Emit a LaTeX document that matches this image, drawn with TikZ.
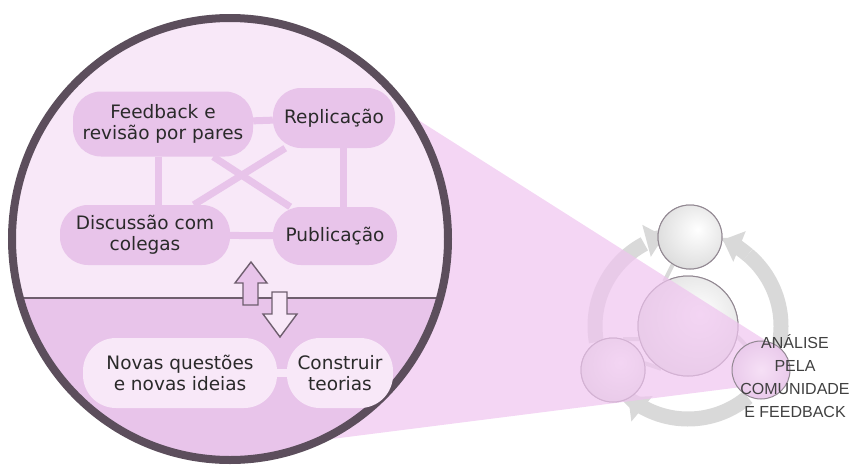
\documentclass[tikz,border=0pt]{standalone}
\usepackage{fontspec}
\setmainfont{DejaVu Sans}
\newfontfamily\libsans{Liberation Sans}
\usetikzlibrary{arrows.meta}
\definecolor{upperc}{HTML}{F8E8F8}
\definecolor{nodec}{HTML}{E8C4EA}
\definecolor{strokec}{HTML}{5C4E5C}
\definecolor{linec}{HTML}{6E5E6E}
\definecolor{txt}{HTML}{2A2A2A}
\definecolor{wedgec}{HTML}{EFC4EF}
\definecolor{ringc}{HTML}{D9D9D9}
\definecolor{ballgray}{HTML}{C8C8C8}
\definecolor{ballborder}{HTML}{928892}
\definecolor{pinkin}{HTML}{F6E0F6}
\definecolor{pinkout}{HTML}{DDB4E0}
\definecolor{sidetxt}{HTML}{404040}
\pgfdeclareradialshading{grayball}{\pgfpoint{6bp}{6bp}}{color(0bp)=(white); color(50bp)=(ballgray); color(100bp)=(ballgray)}
\pgfdeclareradialshading{pinkball}{\pgfpoint{0bp}{0bp}}{color(0bp)=(pinkin); color(50bp)=(pinkout); color(100bp)=(pinkout)}
\pgfdeclarelayer{bg}
\pgfdeclarelayer{mid}
\pgfsetlayers{bg,mid,main}
\newcommand\myNodeFont{\fontsize{18.5}{21}\selectfont}
\begin{document}
\begin{tikzpicture}[x=1pt,y=-1pt,
  ubox/.style={rectangle, rounded corners=28pt, fill=nodec, text=txt, align=center, font=\myNodeFont, inner sep=0pt},
  lbox/.style={rectangle, rounded corners=33pt, fill=upperc, text=txt, align=center, font=\myNodeFont, inner sep=0pt},
  conn/.style={draw=nodec, line width=7pt},
  lconn/.style={draw=upperc, line width=8pt},
  ring/.style={draw=ringc, line width=15pt},
  ringtip/.style={-{Triangle[width=32pt,length=18pt]}},
  stub/.style={draw=ringc, line width=4pt},
  gball/.style={circle, shade, shading=grayball, draw=ballborder, line width=1pt, inner sep=0pt},
  pball/.style={circle, shade, shading=pinkball, draw=ballborder, line width=1pt, inner sep=0pt},
  bigarrow/.style={draw=linec, line width=1.4pt, line join=miter}
]
\useasboundingbox (0,0) rectangle (854,469);

% ---------- right cluster, wedge, big circle (background layer) ----------
\begin{pgfonlayer}{bg}
  \coordinate (O) at (688,326);
  \draw[ring] (O) ++(-190:93) arc (-190:-118:93);
  \draw[ring,ringtip] (O) ++(-112:93) arc (-112:-105:93);
  \draw[ring] (O) ++(12:93) arc (12:-50:93);
  \draw[ring,ringtip] (O) ++(-50:93) arc (-50:-68:93);
  \draw[ring] (O) ++(50:93) arc (50:122:93);
  \draw[ring,ringtip] (O) ++(122:93) arc (122:130:93);

  \node[gball, minimum size=100pt] (cc) at (688,326) {};
  \node[gball, minimum size=64pt] (ctop) at (690,237) {};
  \node[gball, minimum size=64pt] (lc) at (613,370) {};
  \draw[stub] (cc.118) -- (ctop.238);
  \draw[stub] (cc.195) -- (lc.72);
  \draw[stub] (cc.238) -- (lc.12);
  \draw[stub] (cc.-12) -- (760,360);
  \node[gball, minimum size=100pt] at (cc) {};
  \node[gball, minimum size=64pt] at (ctop) {};
  \node[gball, minimum size=64pt] at (lc) {};

  % wedge of the magnifier
  \fill[wedgec, fill opacity=0.7] (300,45) -- (765,340) -- (765,384) -- (300,443) -- cycle;

  \node[pball, minimum size=58pt] (rc) at (761,370) {};

  % big circle
  \begin{scope}
    \clip (230,239) ellipse [x radius=218, y radius=221];
    \fill[upperc] (0,0) rectangle (460,298);
    \fill[nodec] (0,298) rectangle (460,470);
    \draw[linec, line width=1.8pt] (0,298) -- (460,298);
  \end{scope}
  \draw[strokec, line width=8pt] (230,239) ellipse [x radius=218, y radius=221];
\end{pgfonlayer}

% ---------- nodes ----------
\node[ubox, minimum width=180pt, minimum height=65pt] (fb) at (163,124) {Feedback e\\revisão por pares};
\node[ubox, minimum width=122pt, minimum height=60pt] (rep) at (334,118) {Replicação};
\node[ubox, minimum width=170pt, minimum height=60pt] (disc) at (145,235) {Discussão com\\colegas};
\node[ubox, minimum width=124pt, minimum height=58pt] (pub) at (335,236) {Publicação};
\node[lbox, minimum width=194pt, minimum height=70pt] (nq) at (180,373) {Novas questões\\e novas ideias};
\node[lbox, minimum width=106pt, minimum height=70pt] (ct) at (340,373) {Construir\\teorias};

% ---------- connectors (under the nodes) ----------
\begin{pgfonlayer}{mid}
  \draw[conn] (fb) -- (rep);
  \draw[conn] ([xshift=-5pt]fb.south) -- ([xshift=-5pt]fb.south |- disc.north);
  \draw[conn] ([xshift=9pt]rep.south) -- ([xshift=9pt]rep.south |- pub.north);
  \draw[conn] (disc) -- (pub);
  \draw[conn] (fb) -- (pub);
  \draw[conn] (rep) -- (disc);
  \draw[lconn] (nq) -- (ct);
\end{pgfonlayer}

% ---------- double arrow across the dividing line ----------
\draw[bigarrow, fill=nodec] (251,262) -- (267,283) -- (258,283) -- (258,305) -- (243,305) -- (243,283) -- (235,283) -- cycle;
\draw[bigarrow, fill=upperc] (280,337) -- (263,314) -- (272,314) -- (272,292) -- (287,292) -- (287,314) -- (297,314) -- cycle;

% ---------- side label ----------
\node[align=center, text=sidetxt, font=\libsans\fontsize{16}{23}\selectfont, inner sep=0pt] (lbl) at (795,376) {ANÁLISE\\PELA\\COMUNIDADE\\E FEEDBACK};
\end{tikzpicture}
\end{document}
